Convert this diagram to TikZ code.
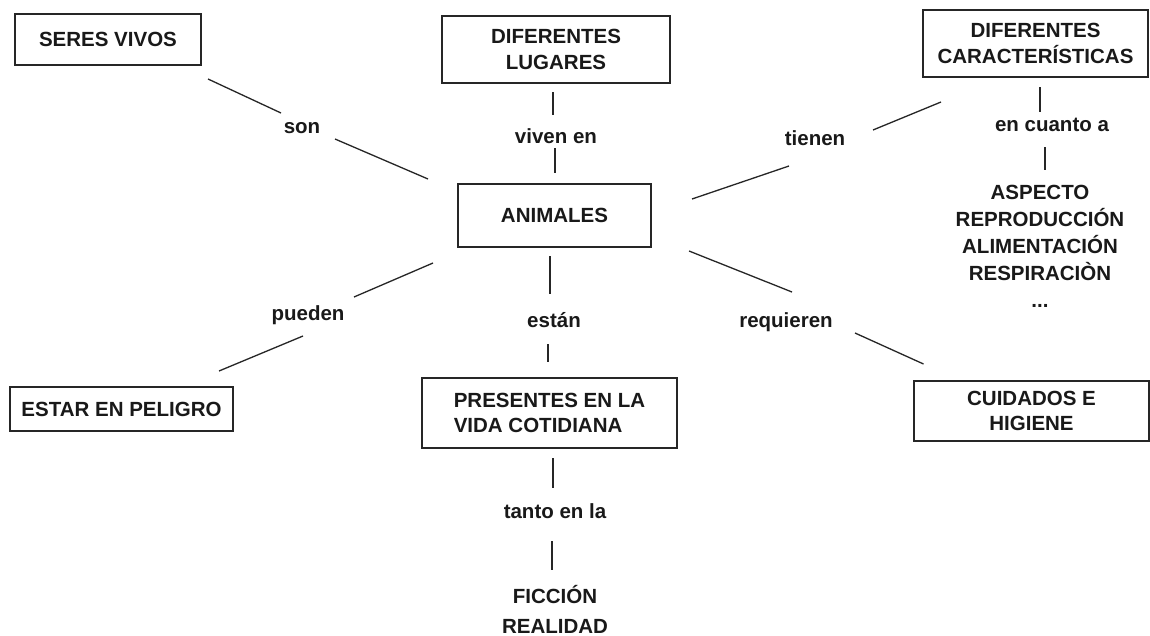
\documentclass[tikz,border=0pt]{standalone}
\usepackage{fontspec}
\setmainfont{Liberation Sans}
\usetikzlibrary{calc}
\begin{document}
\begin{tikzpicture}[x=1pt,y=-1pt,
  every node/.style={font=\bfseries\fontsize{20.5}{25.5}\selectfont, inner sep=0pt, text=black!90},
  box/.style={draw=black!85, line width=1.3pt, align=center},
  lbl/.style={},
  conn/.style={draw=black!85, line width=1.3pt}]
\useasboundingbox[fill=white] (0,0) rectangle (1150,635);

% boxes
\node[box, minimum width=186pt, minimum height=51pt] (seres) at (108,39.5) {SERES VIVOS};
\node[box, minimum width=228pt, minimum height=67pt] (lugares) at (556,49.5) {DIFERENTES\\LUGARES};
\node[box, minimum width=193pt, minimum height=63pt] (animales) at (554.5,215.5) {ANIMALES};
\node[box, minimum width=225pt, minimum height=67pt] (caract) at (1035.5,43.5) {DIFERENTES\\CARACTERÍSTICAS};
\node[box, minimum width=223pt, minimum height=44pt] (peligro) at (121.5,409) {ESTAR EN PELIGRO};
\node[box, align=left, minimum width=255pt, minimum height=70pt] (presentes) at (549.5,413) {PRESENTES EN LA\\VIDA COTIDIANA};
\node[box, minimum width=235pt, minimum height=60pt] (cuidados) at (1031.5,411) {CUIDADOS E\\HIGIENE};

% plain texts
\node[align=center, anchor=north, font=\bfseries\fontsize{20.5}{27}\selectfont] (lista) at (1040,185)
  {ASPECTO\\REPRODUCCIÓN\\ALIMENTACIÓN\\RESPIRACIÒN\\...};
\node[align=center, anchor=base, font=\bfseries\fontsize{20.5}{30}\selectfont] (ficcion) at (555,633)
  {FICCIÓN\\REALIDAD};

% link labels
\node[lbl] (son) at (302,128) {son};
\node[lbl] (viven) at (556,136) {viven en};
\node[lbl] (tienen) at (815,138) {tienen};
\node[lbl] (encuanto) at (1052,125) {en cuanto a};
\node[lbl] (pueden) at (308,315) {pueden};
\node[lbl] (estan) at (554,320) {están};
\node[lbl] (requieren) at (786,322) {requieren};
\node[lbl] (tanto) at (555,511) {tanto en la};

% connectors
\draw[conn] ($(seres)+(100,39.5)$) -- ($(son)+(-21,-15)$);
\draw[conn] ($(son)+(33,11)$) -- ($(animales)+(-126.5,-36.5)$);
\draw[conn] ($(lugares)+(-3,42.5)$) -- ($(viven)+(-3,-21)$);
\draw[conn] ($(viven)+(-1,12)$) -- ($(animales)+(0.5,-42.5)$);
\draw[conn] ($(animales)+(137.5,-16.5)$) -- ($(tienen)+(-26,28)$);
\draw[conn] ($(tienen)+(58,-8)$) -- ($(caract)+(-94.5,58.5)$);
\draw[conn] ($(caract)+(4.5,43.5)$) -- ($(encuanto)+(-12,-13)$);
\draw[conn] ($(encuanto)+(-7,22)$) -- ($(lista.north)+(5,-15)$);
\draw[conn] ($(animales)+(-121.5,47.5)$) -- ($(pueden)+(46,-18)$);
\draw[conn] ($(pueden)+(-5,21)$) -- ($(peligro)+(97.5,-38)$);
\draw[conn] ($(animales)+(-4.5,40.5)$) -- ($(estan)+(-4,-26)$);
\draw[conn] ($(estan)+(-6,24)$) -- ($(presentes)+(-1.5,-51)$);
\draw[conn] ($(animales)+(134.5,35.5)$) -- ($(requieren)+(6,-30)$);
\draw[conn] ($(requieren)+(69,11)$) -- ($(cuidados)+(-108,-47)$);
\draw[conn] ($(presentes)+(3.5,45)$) -- ($(tanto)+(-2,-23)$);
\draw[conn] ($(tanto)+(-3,30)$) -- ($(ficcion.north)+(-3,-15)$);
\end{tikzpicture}
\end{document}
